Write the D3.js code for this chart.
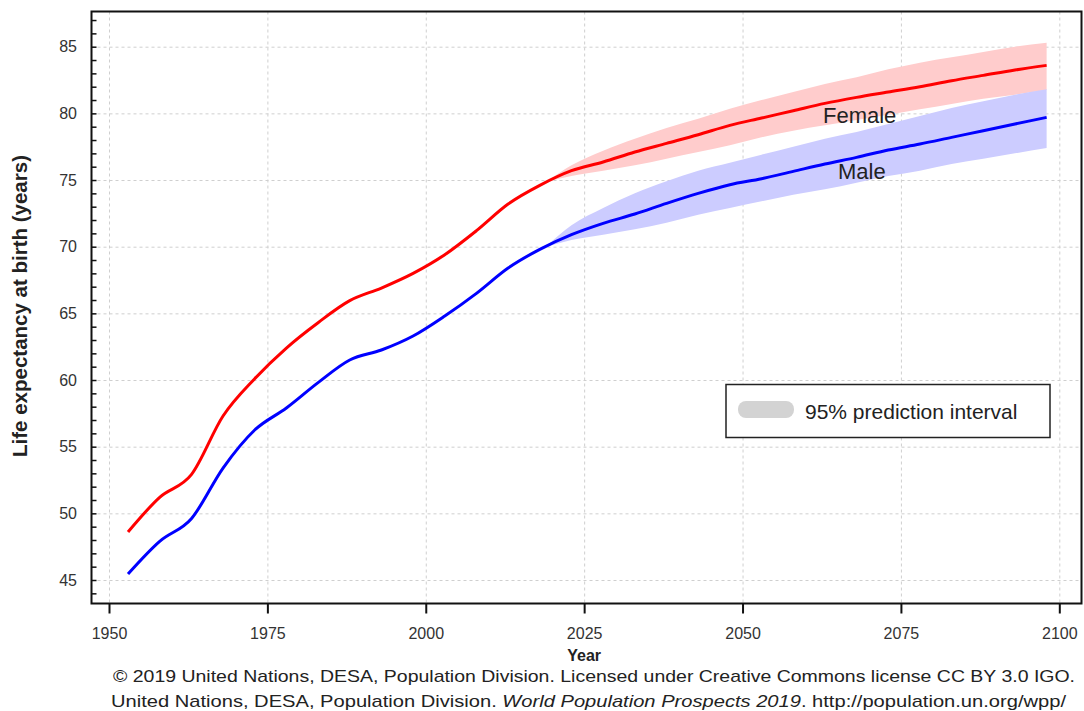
<!DOCTYPE html>
<html>
<head>
<meta charset="utf-8">
<script src="https://cdn.jsdelivr.net/npm/d3@7/dist/d3.min.js"></script>
<style>
  html, body { margin: 0; padding: 0; background: #fff; }
  svg { display: block; font-family: "Liberation Sans", Arial, sans-serif; }
</style>
</head>
<body>
<div id="chart"></div>
<script>
// =============================================================================
// DATA
// =============================================================================

const years = [1953, 1958, 1963, 1968, 1973, 1978, 1983, 1988, 1993, 1998,
  2003, 2008, 2013, 2018, 2023, 2028, 2033, 2038, 2043, 2048,
  2053, 2058, 2063, 2068, 2073, 2078, 2083, 2088, 2093, 2098];

const female = [48.6, 51.2, 52.9, 57.3, 60.1, 62.4, 64.3, 65.95, 66.9, 68.0,
  69.4, 71.2, 73.2, 74.6, 75.7, 76.35, 77.1, 77.75, 78.4, 79.1,
  79.65, 80.2, 80.75, 81.2, 81.6, 82.0, 82.45, 82.85, 83.25, 83.6];

const male = [45.45, 47.9, 49.6, 53.4, 56.25, 57.9, 59.8, 61.5, 62.25, 63.3,
  64.8, 66.5, 68.4, 69.8, 70.9, 71.75, 72.45, 73.25, 74.0, 74.65,
  75.1, 75.65, 76.2, 76.7, 77.25, 77.7, 78.2, 78.7, 79.2, 79.7];

// 95% prediction interval, projections only
const bandYears = [2019, 2023, 2028, 2033, 2038, 2043, 2048, 2053, 2058,
  2063, 2068, 2073, 2078, 2083, 2088, 2093, 2098];

const femaleLow = [74.85, 75.3, 75.7, 76.1, 76.6, 77.1, 77.6, 78.2, 78.7,
  79.1, 79.5, 79.9, 80.3, 80.7, 81.1, 81.4, 81.75];
const femaleHigh = [74.85, 76.1, 77.2, 78.1, 78.9, 79.6, 80.35, 81.0, 81.6,
  82.2, 82.7, 83.3, 83.8, 84.2, 84.6, 85.0, 85.3];

const maleLow = [70.0, 70.5, 70.9, 71.3, 71.8, 72.4, 72.9, 73.4, 73.9,
  74.3, 74.8, 75.3, 75.7, 76.2, 76.6, 77.0, 77.4];
const maleHigh = [70.0, 71.6, 72.9, 74.0, 74.9, 75.7, 76.3, 76.9, 77.5,
  78.1, 78.6, 79.2, 79.8, 80.4, 80.9, 81.4, 81.8];

const xTicks = [1950, 1975, 2000, 2025, 2050, 2075, 2100];
const yTicks = [45, 50, 55, 60, 65, 70, 75, 80, 85];

// =============================================================================
// LAYOUT
// =============================================================================

const W = 1084;
const H = 711;
const frame = { left: 91.5, top: 11.5, right: 1081.5, bottom: 603.5 };

const x = d3.scaleLinear().domain([1950, 2100]).range([109, 1059.3]);
const y = d3.scaleLinear().domain([45, 85]).range([580, 46.7]);

const svg = d3.select('#chart')
  .append('svg')
  .attr('width', W)
  .attr('height', H);

svg.append('rect')
  .attr('width', W)
  .attr('height', H)
  .attr('fill', '#fff');

// =============================================================================
// GRID
// =============================================================================

const grid = svg.append('g')
  .attr('stroke', '#cfcfcf')
  .attr('stroke-width', 1)
  .attr('stroke-dasharray', '3,3');

grid.selectAll('line.v')
  .data(xTicks)
  .join('line')
  .attr('class', 'v')
  .attr('x1', d => x(d) + 0.5)
  .attr('x2', d => x(d) + 0.5)
  .attr('y1', frame.top)
  .attr('y2', frame.bottom);

grid.selectAll('line.h')
  .data(yTicks)
  .join('line')
  .attr('class', 'h')
  .attr('x1', frame.left)
  .attr('x2', frame.right)
  .attr('y1', d => y(d) + 0.5)
  .attr('y2', d => y(d) + 0.5);

// =============================================================================
// BANDS + LINES
// =============================================================================

const bandIdx = d3.range(bandYears.length);

function band(lo, hi) {
  return d3.area()
    .x(i => x(bandYears[i]))
    .y0(i => y(lo[i]))
    .y1(i => y(hi[i]))
    .curve(d3.curveMonotoneX)(bandIdx);
}

svg.append('path').attr('d', band(femaleLow, femaleHigh)).attr('fill', '#ffcccc');
svg.append('path').attr('d', band(maleLow, maleHigh)).attr('fill', '#ccccff');

const idx = d3.range(years.length);

function line(values) {
  return d3.line()
    .x(i => x(years[i]))
    .y(i => y(values[i]))
    .curve(d3.curveMonotoneX)(idx);
}

svg.append('path')
  .attr('d', line(female))
  .attr('fill', 'none')
  .attr('stroke', '#ff0000')
  .attr('stroke-width', 3)
  .attr('stroke-linejoin', 'round');

svg.append('path')
  .attr('d', line(male))
  .attr('fill', 'none')
  .attr('stroke', '#0000ff')
  .attr('stroke-width', 3)
  .attr('stroke-linejoin', 'round');

svg.append('text')
  .attr('x', 823)
  .attr('y', 123)
  .attr('font-size', 22)
  .attr('fill', '#222')
  .text('Female');

svg.append('text')
  .attr('x', 838)
  .attr('y', 179)
  .attr('font-size', 22)
  .attr('fill', '#222')
  .text('Male');

// =============================================================================
// AXES
// =============================================================================

// frame
svg.append('rect')
  .attr('x', frame.left)
  .attr('y', frame.top)
  .attr('width', frame.right - frame.left)
  .attr('height', frame.bottom - frame.top)
  .attr('fill', 'none')
  .attr('stroke', '#111')
  .attr('stroke-width', 2);

// y axis: inward ticks every year, labels at multiples of 5
const yAxis = d3.axisRight(y)
  .tickValues(d3.range(44, 88))
  .tickSize(5)
  .tickFormat('');

svg.append('g')
  .attr('transform', `translate(${frame.left},0)`)
  .call(yAxis)
  .call(g => g.select('.domain').remove())
  .call(g => g.selectAll('line').attr('stroke', '#111').attr('stroke-width', 1.5));

svg.append('g')
  .selectAll('text')
  .data(yTicks)
  .join('text')
  .attr('x', 77)
  .attr('y', d => y(d))
  .attr('dy', '0.35em')
  .attr('text-anchor', 'end')
  .attr('font-size', 16)
  .attr('fill', '#333')
  .text(d => d);

// x axis: outward ticks
const xAxis = d3.axisBottom(x)
  .tickValues(xTicks)
  .tickSize(10)
  .tickPadding(14)
  .tickFormat(d3.format('d'));

svg.append('g')
  .attr('transform', `translate(0,${frame.bottom})`)
  .call(xAxis)
  .call(g => g.select('.domain').remove())
  .call(g => g.selectAll('line').attr('stroke', '#111').attr('stroke-width', 2))
  .call(g => g.selectAll('text')
    .attr('font-size', 16)
    .attr('font-family', '"Liberation Sans", Arial, sans-serif')
    .attr('fill', '#333'));

svg.append('text')
  .attr('x', x(2025))
  .attr('y', 661)
  .attr('text-anchor', 'middle')
  .attr('font-size', 16)
  .attr('font-weight', 'bold')
  .attr('fill', '#222')
  .text('Year');

svg.append('text')
  .attr('transform', 'translate(27,306) rotate(-90)')
  .attr('text-anchor', 'middle')
  .attr('font-size', 20.5)
  .attr('font-weight', 'bold')
  .attr('fill', '#222')
  .text('Life expectancy at birth (years)');

// =============================================================================
// LEGEND
// =============================================================================

const legend = svg.append('g');

legend.append('rect')
  .attr('x', 726)
  .attr('y', 384.5)
  .attr('width', 324)
  .attr('height', 53)
  .attr('fill', '#fff')
  .attr('stroke', '#222')
  .attr('stroke-width', 1.5);

legend.append('rect')
  .attr('x', 738)
  .attr('y', 401)
  .attr('width', 56)
  .attr('height', 17)
  .attr('rx', 8)
  .attr('fill', '#d3d3d3');

legend.append('text')
  .attr('x', 805)
  .attr('y', 419)
  .attr('font-size', 21)
  .attr('fill', '#222')
  .text('95% prediction interval');

// =============================================================================
// SOURCE NOTE
// =============================================================================

svg.append('text')
  .attr('x', 113)
  .attr('y', 682)
  .attr('font-size', 17)
  .attr('fill', '#222')
  .attr('textLength', 962)
  .attr('lengthAdjust', 'spacingAndGlyphs')
  .text('\u00a9 2019 United Nations, DESA, Population Division. Licensed under Creative Commons license CC BY 3.0 IGO.');

const note = svg.append('text')
  .attr('x', 111)
  .attr('y', 707)
  .attr('font-size', 17)
  .attr('fill', '#222')
  .attr('textLength', 955)
  .attr('lengthAdjust', 'spacingAndGlyphs');

note.append('tspan').text('United Nations, DESA, Population Division. ');
note.append('tspan').attr('font-style', 'italic').text('World Population Prospects 2019');
note.append('tspan').text('. http://population.un.org/wpp/');
</script>
</body>
</html>
